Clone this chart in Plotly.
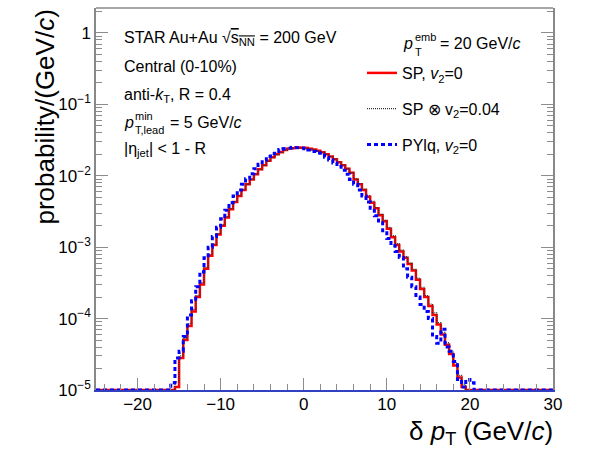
import numpy as np
import plotly.graph_objects as go

# delta pT histograms, 0.5 GeV/c bins
BIN_W = 0.5
SP_FIRST = -15.25      # centre of the first non-empty bin
PYLQ_FIRST = -15.75

sp_v2_0 = [
    1.1e-5, 2.8e-5, 5.0e-5, 7.9e-5, 1.26e-4, 2.0e-4, 3.0e-4, 5.0e-4, 7.6e-4, 1.07e-3,
    1.51e-3, 2.0e-3, 2.6e-3, 3.4e-3, 4.3e-3, 5.2e-3, 6.3e-3, 7.6e-3, 8.9e-3, 1.05e-2,
    1.23e-2, 1.41e-2, 1.62e-2, 1.82e-2, 2.0e-2, 2.14e-2, 2.29e-2, 2.4e-2, 2.45e-2, 2.5e-2,
    2.5e-2, 2.45e-2, 2.4e-2, 2.34e-2, 2.24e-2, 2.14e-2, 2.0e-2, 1.86e-2, 1.7e-2, 1.55e-2,
    1.41e-2, 1.26e-2, 1.1e-2, 8.9e-3, 7.6e-3, 6.3e-3, 5.1e-3, 4.2e-3, 3.5e-3, 2.8e-3,
    2.3e-3, 1.82e-3, 1.38e-3, 1.07e-3, 8.7e-4, 7.1e-4, 5.8e-4, 4.7e-4, 3.5e-4, 2.6e-4,
    2.0e-4, 1.5e-4, 1.12e-4, 8.3e-5, 6.0e-5, 4.3e-5, 3.2e-5, 2.2e-5, 1.5e-5, 1.1e-5,
]

sp_v2_004 = [
    1.3e-5, 3.0e-5, 5.3e-5, 8.5e-5, 1.35e-4, 2.1e-4, 3.2e-4, 5.2e-4, 7.9e-4, 1.1e-3,
    1.55e-3, 2.05e-3, 2.65e-3, 3.45e-3, 4.35e-3, 5.3e-3, 6.4e-3, 7.6e-3, 8.9e-3, 1.05e-2,
    1.22e-2, 1.4e-2, 1.6e-2, 1.8e-2, 1.98e-2, 2.12e-2, 2.26e-2, 2.37e-2, 2.42e-2, 2.47e-2,
    2.47e-2, 2.43e-2, 2.38e-2, 2.32e-2, 2.23e-2, 2.13e-2, 2.0e-2, 1.87e-2, 1.71e-2, 1.56e-2,
    1.42e-2, 1.27e-2, 1.12e-2, 9.1e-3, 7.8e-3, 6.5e-3, 5.3e-3, 4.4e-3, 3.6e-3, 2.9e-3,
    2.4e-3, 1.9e-3, 1.45e-3, 1.12e-3, 9.1e-4, 7.4e-4, 6.0e-4, 4.9e-4, 3.7e-4, 2.75e-4,
    2.1e-4, 1.6e-4, 1.2e-4, 8.8e-5, 6.4e-5, 4.6e-5, 3.4e-5, 2.4e-5, 1.6e-5, 1.2e-5,
]

pylq_v2_0 = [
    1.26e-5, 2.8e-5, 3.5e-5, 5.6e-5, 1.12e-4, 1.78e-4, 2.8e-4, 4.5e-4, 7.1e-4, 1.0e-3,
    1.41e-3, 1.9e-3, 2.5e-3, 3.3e-3, 4.2e-3, 5.2e-3, 6.3e-3, 7.6e-3, 9.1e-3, 1.07e-2,
    1.26e-2, 1.45e-2, 1.66e-2, 1.86e-2, 2.04e-2, 2.19e-2, 2.34e-2, 2.4e-2, 2.45e-2, 2.5e-2,
    2.5e-2, 2.45e-2, 2.4e-2, 2.29e-2, 2.19e-2, 2.09e-2, 1.95e-2, 1.82e-2, 1.66e-2, 1.51e-2,
    1.35e-2, 1.2e-2, 1.05e-2, 8.9e-3, 7.6e-3, 6.3e-3, 5.2e-3, 4.3e-3, 3.5e-3, 2.75e-3,
    2.2e-3, 1.7e-3, 1.32e-3, 1.05e-3, 8.7e-4, 7.2e-4, 5.0e-4, 3.8e-4, 2.8e-4, 2.0e-4,
    1.58e-4, 1.26e-4, 1.0e-4, 5.6e-5, 4.5e-5, 7.1e-5, 4.0e-5, 3.5e-5, 2.5e-5, 1.4e-5,
    1.1e-5, 1.4e-5, 1.26e-5,
]

X_MIN, X_MAX = -25, 30
Y_FLOOR = 1e-5
y_ticks = [1e-5, 1e-4, 1e-3, 1e-2, 1e-1, 1]
y_ticktext = ["10<sup>\u22125</sup>", "10<sup>\u22124</sup>", "10<sup>\u22123</sup>",
              "10<sup>\u22122</sup>", "10<sup>\u22121</sup>", "1"]

FONT = "Liberation Sans, Arial, sans-serif"
TICK_COL = "#8c8c8c"


def step_hist(first, vals):
    # fill the full axis range, empty bins go to the bottom of the log axis like ROOT
    edges = np.arange(X_MIN, X_MAX + BIN_W / 2, BIN_W)
    h = np.zeros(len(edges) - 1)
    i0 = int(round((first - BIN_W / 2 - X_MIN) / BIN_W))
    h[i0:i0 + len(vals)] = vals
    h = np.where(h > 0, h, Y_FLOOR)
    return np.repeat(edges, 2)[1:-1], np.repeat(h, 2)


fig = go.Figure()

series = [
    ("SP, <i>v</i><sub>2</sub>=0", SP_FIRST, sp_v2_0, dict(color="#ff0000", width=2.5)),
    ("SP \u2297 v<sub>2</sub>=0.04", SP_FIRST, sp_v2_004, dict(color="#333333", width=1.2, dash="1px,1px")),
    ("PYlq, <i>v</i><sub>2</sub>=0", PYLQ_FIRST, pylq_v2_0, dict(color="#0000ff", width=3, dash="4px,3px")),
]
for i, (name, first, vals, line) in enumerate(series):
    x, y = step_hist(first, vals)
    fig.add_trace(go.Scatter(x=x, y=y, mode="lines", name=name, line=line,
                             legendgroup=f"g{i}", hoverinfo="skip"))

minor_y = [m * 10.0 ** e for e in range(-5, 1) for m in range(2, 10)]

fig.update_xaxes(
    range=[X_MIN, X_MAX], showgrid=False, zeroline=False,
    showline=True, linecolor="#3040c0", linewidth=1.5, mirror=False,
    ticks="inside", ticklen=12, tickcolor=TICK_COL, dtick=10,
    minor=dict(ticks="inside", ticklen=6, dtick=2, tickcolor=TICK_COL),
    tickfont=dict(family=FONT, size=17, color="black"), ticklabelstandoff=-2,
)
fig.update_yaxes(
    type="log", range=[-5, 0.35], showgrid=False, zeroline=False,
    showline=True, linecolor="#888888", linewidth=1.5, mirror="ticks",
    ticks="inside", ticklen=12, tickcolor=TICK_COL,
    tickmode="array", tickvals=y_ticks, ticktext=y_ticktext,
    minor=dict(ticks="inside", ticklen=6, tickcolor=TICK_COL, tickmode="array", tickvals=minor_y),
    tickfont=dict(family=FONT, size=17, color="black"), ticklabelstandoff=0,
)


def txt(text, xp, yp, size=16, anchor="left"):
    # positions given in page pixels, converted to paper coords
    return dict(text=text, x=(xp - 96) / 457, y=(390 - yp) / 382, xref="paper", yref="paper",
                xanchor=anchor, yanchor="middle", showarrow=False,
                font=dict(family=FONT, size=size, color="black"))


annotations = [
    txt("STAR Au+Au \u221a<span style='text-decoration:overline'>s<sub>NN</sub></span> = 200 GeV", 122, 38),
    txt("Central (0-10%)", 122, 66),
    txt("anti-<i>k</i><sub>T</sub>, R = 0.4", 122, 95),
    txt("<i>p</i>", 122, 122),
    txt("min", 133, 116, size=11),
    txt("T,lead", 133, 130, size=11),
    txt("= 5 GeV/<i>c</i>", 168, 122),
    txt("|\u03b7<sub>jet</sub>| < 1 - R", 122, 149),
    txt("<i>p</i>", 401, 44),
    txt("emb", 413, 37, size=11),
    txt("T", 413, 52, size=11),
    txt("= 20 GeV/<i>c</i>", 438, 43),
    txt("\u03b4 <i>p</i><sub>T</sub> (GeV/<i>c</i>)", 555, 432, size=26, anchor="right"),
]
annotations.append(dict(text="probability/(GeV/<i>c</i>)", textangle=-90, x=(44 - 96) / 457, y=1.0,
                        xref="paper", yref="paper", xanchor="center", yanchor="top", showarrow=False,
                        font=dict(family=FONT, size=26, color="black")))

fig.update_layout(
    width=600, height=465,
    margin=dict(l=96, r=47, t=8, b=75),
    paper_bgcolor="white", plot_bgcolor="white",
    annotations=annotations,
    shapes=[dict(type="line", xref="paper", yref="paper", x0=0, x1=1, y0=1, y1=1,
                 line=dict(color="#888888", width=1.5))],
    legend=dict(x=(362 - 96) / 457, y=(390 - 56) / 382, xanchor="left", yanchor="top",
                bgcolor="rgba(0,0,0,0)", tracegroupgap=12, itemwidth=30,
                font=dict(family=FONT, size=16, color="black")),
    showlegend=True,
)

# page body margin would shift the 600x465 figure, drop it
fig.write_html("out.html", config={"displayModeBar": False},
               post_script="document.body.style.margin='0px';")
